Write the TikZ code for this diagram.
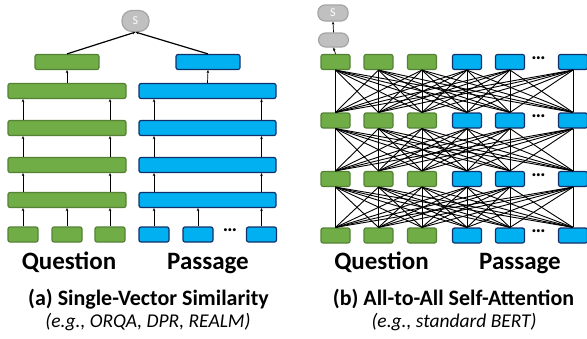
\documentclass[tikz,border=0pt]{standalone}
\usepackage{fontspec}
\setmainfont{Carlito}
\usetikzlibrary{arrows.meta}
\definecolor{gfill}{HTML}{70AD47}
\definecolor{gdraw}{HTML}{548235}
\definecolor{bfill}{HTML}{00B0F0}
\definecolor{bdraw}{HTML}{12306A}
\definecolor{ofill}{HTML}{C0C0C0}
\definecolor{odraw}{HTML}{A5A5A5}
\tikzset{
  gbox/.style={draw=gdraw, fill=gfill, rounded corners=2pt, line width=1.2pt, inner sep=0pt, minimum height=15pt},
  bbox/.style={draw=bdraw, fill=bfill, rounded corners=2pt, line width=1.2pt, inner sep=0pt, minimum height=15pt},
  oval/.style={draw=odraw, fill=ofill, rounded corners=7pt, line width=1.2pt, inner sep=0pt, text=white, font=\fontsize{12}{12}\selectfont},
  arr/.style={-{Stealth[length=3pt,width=2.6pt]}, line width=0.7pt},
  mesh/.style={line width=0.9pt},
  bigtxt/.style={anchor=base, inner sep=0pt, font=\fontsize{25}{27}\selectfont\bfseries},
  captxt/.style={anchor=base, inner sep=0pt, font=\fontsize{22}{24}\selectfont\bfseries},
  subtxt/.style={anchor=base, inner sep=0pt, font=\fontsize{19.5}{21}\selectfont\itshape},
  dots/.style={font=\fontsize{20}{20}\selectfont\bfseries, inner sep=0pt}
}
\begin{document}
\begin{tikzpicture}[x=1pt,y=-1pt]
\useasboundingbox (0,0) rectangle (587,338);
% ---------- (a) ----------
\node[oval, rounded corners=10pt, minimum width=27pt, minimum height=21pt] (sa) at (135.5,21) {S};
\node[gbox, minimum width=64pt] (qtop) at (67,62) {};
\node[bbox, minimum width=64pt] (ptop) at (208,62) {};
\foreach \i/\y in {1/91,2/128,3/165,4/200}{
  \node[gbox, minimum width=118pt] (ql\i) at (67,\y) {};
  \node[bbox, minimum width=137pt] (pl\i) at (207.5,\y) {};
}
\foreach \i/\x in {1/23,2/67,3/110}{
  \node[gbox, minimum width=30pt] (qt\i) at (\x,234.5) {};
}
\foreach \i/\x in {1/154,2/198,3/261.5}{
  \node[bbox, minimum width=30pt] (pt\i) at (\x,234.5) {};
}
\node[dots] (pdots) at (230,230) {…};
\draw[arr, line width=1.2pt] (qtop.north) -- (sa.south);
\draw[arr, line width=1.2pt] (ptop.north) -- (sa.south);
\draw[arr] (ql1.north) -- (qtop.south);
\draw[arr] (pl1.north) -- (ptop.south);
\foreach \a/\b in {2/1,3/2,4/3}{
  \draw[arr] (ql\a.north -| qt1) -- (ql\b.south -| qt1);
  \draw[arr] (ql\a.north -| qt3) -- (ql\b.south -| qt3);
  \draw[arr] (pl\a.north -| pt1) -- (pl\b.south -| pt1);
  \draw[arr] (pl\a.north -| pt3) -- (pl\b.south -| pt3);
}
\foreach \i in {1,2,3}{
  \draw[arr] (qt\i.north) -- (ql4.south -| qt\i);
  \draw[arr] (pt\i.north) -- (pl4.south -| pt\i);
}
\node[bigtxt] (qa) at (69,269) {Question};
\node[bigtxt] (pa) at (208,269) {Passage};
\node[captxt] (capa) at (148.5,305.5) {(a) Single-Vector Similarity};
\node[subtxt] (suba) at (148,327) {(e.g., ORQA, DPR, REALM)};
% ---------- (b) ----------
\node[oval, minimum width=30pt, minimum height=16pt] (sb) at (333,13) {S};
\node[oval, minimum width=30pt, minimum height=14pt] (hb) at (333.5,40) {};
\foreach \r/\y in {1/62,2/120.5,3/179,4/235.5}{
  \foreach \c/\x in {1/335.5,2/378.5,3/422}{
    \node[gbox, minimum width=29pt] (m\r-\c) at (\x,\y) {};
  }
  \foreach \c/\x in {4/467,5/510,6/573}{
    \node[bbox, minimum width=29pt] (m\r-\c) at (\x,\y) {};
  }
  \node[dots] (d\r) at (538.5,\y-4) {…};
}
\foreach \a/\b in {2/1,3/2,4/3}{
  \foreach \i in {1,...,6}{
    \foreach \j in {1,...,6}{
      \draw[mesh] (m\a-\i.north) -- (m\b-\j.south);
    }
  }
}
\draw[arr] (m1-1.north) -- (hb.south);
\draw[arr] (hb.north) -- (sb.south);
\node[bigtxt] (qb) at (381.5,269) {Question};
\node[bigtxt] (pb) at (520,269) {Passage};
\node[captxt] (capb) at (453.5,305.5) {(b) All-to-All Self-Attention};
\node[subtxt] (subb) at (454,327) {(e.g., standard BERT)};
\end{tikzpicture}
\end{document}
